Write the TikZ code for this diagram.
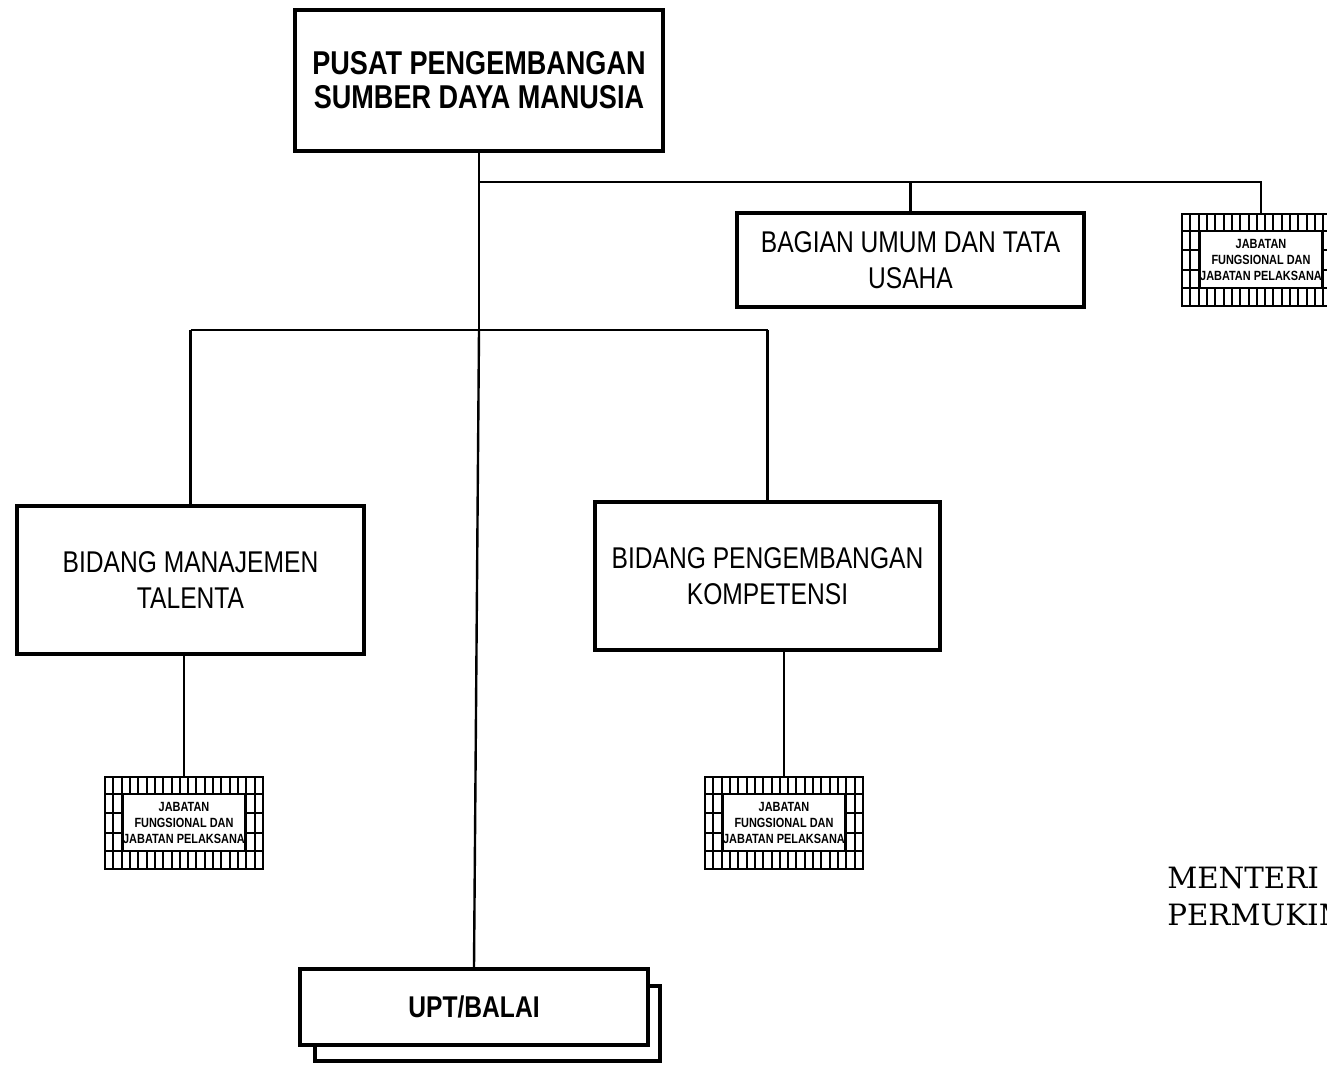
\documentclass[tikz,border=0pt]{standalone}
\usepackage{fontspec}
\newfontfamily\nsans[FakeStretch=0.82]{Liberation Sans}
\newfontfamily\mserif{DejaVu Serif}
\newcommand\jabgrid[1]{%
  \begin{scope}[shift={#1}]
    \fill[white] (-79,-46) rectangle (79,46);
    \foreach \i in {1,...,18}
      \draw[gridline] (-79+\i*8.316,-46) -- (-79+\i*8.316,46);
    \foreach \yy in {-29,-9.7,9.7,28}
      \draw[gridline] (-79,\yy) -- (79,\yy);
    \draw[gridline, fill=white] (-61,-29) rectangle (61,28);
  \end{scope}}
\begin{document}
\begin{tikzpicture}[x=0.75pt,y=-0.75pt,
  box/.style={draw, line width=3pt, fill=white, inner sep=0pt, align=center,
    font=\nsans\fontsize{22.5}{26.6}\selectfont},
  titlebox/.style={box, font=\nsans\bfseries\fontsize{24.75}{25.5}\selectfont},
  uptbox/.style={box, font=\nsans\bfseries\fontsize{22.5}{26}\selectfont},
  conn/.style={line width=1.8pt},
  gridline/.style={line width=1.5pt},
  jab/.style={draw, line width=1.8pt, minimum width=118.5pt,
    minimum height=69pt, inner sep=0pt, align=center,
    font=\nsans\bfseries\fontsize{10}{12}\selectfont},
  menteri/.style={anchor=north west, align=left, inner sep=0pt,
    font=\mserif\fontsize{22}{27.75}\selectfont}
]
\useasboundingbox (0,0) rectangle (1327,1064);
\fill[white] (0,0) rectangle (1327,1064);
\clip (0,0) rectangle (1327,1064);

% boxes
\node[titlebox, minimum width=276pt, minimum height=105.75pt] (top) at (479,80.5)
  {PUSAT PENGEMBANGAN\\SUMBER DAYA MANUSIA};
\node[box, minimum width=260.25pt, minimum height=70.5pt] (bagian) at (910.5,260)
  {BAGIAN UMUM DAN TATA\\USAHA};
\node[box, minimum width=260.25pt, minimum height=111pt] (bid1) at (190.5,580)
  {BIDANG MANAJEMEN\\TALENTA};
\node[box, minimum width=258.75pt, minimum height=111pt] (bid2) at (767.5,576)
  {BIDANG PENGEMBANGAN\\KOMPETENSI};
\node[box, minimum width=258.75pt, minimum height=56.25pt] (uptb) at (487.5,1023.5) {};
\node[uptbox, minimum width=261pt, minimum height=57pt] (upt) at (474,1007) {UPT/BALAI};

\jabgrid{(184,823)}
\node[jab] (jab1) at (184,823) {JABATAN\\FUNGSIONAL DAN\\JABATAN PELAKSANA};
\jabgrid{(784,823)}
\node[jab] (jab2) at (784,823) {JABATAN\\FUNGSIONAL DAN\\JABATAN PELAKSANA};
\jabgrid{(1261,260)}
\node[jab] (jab3) at (1261,260) {JABATAN\\FUNGSIONAL DAN\\JABATAN PELAKSANA};

\node[menteri] (mtr) at (1167,867) {MENTERI\\PERMUKIM};

% connectors
\coordinate (j1) at (479,182);
\coordinate (j2) at (479,330);
\draw[conn] (top.south) -- (j2);
\draw[conn] (j1) -- (j1 -| jab3.north) -- (jab3.north);
\draw[conn] (j1 -| bagian.north) -- (bagian.north);
\draw[conn] (bid1.north |- j2) -- (bid2.north |- j2);
\draw[conn] (bid1.north |- j2) -- (bid1.north);
\draw[conn] (bid2.north |- j2) -- (bid2.north);
\draw[conn] (j2) -- (upt.north);
\draw[conn] (bid1.south -| jab1.north) -- (jab1.north);
\draw[conn] (bid2.south -| jab2.north) -- (jab2.north);
\end{tikzpicture}
\end{document}
